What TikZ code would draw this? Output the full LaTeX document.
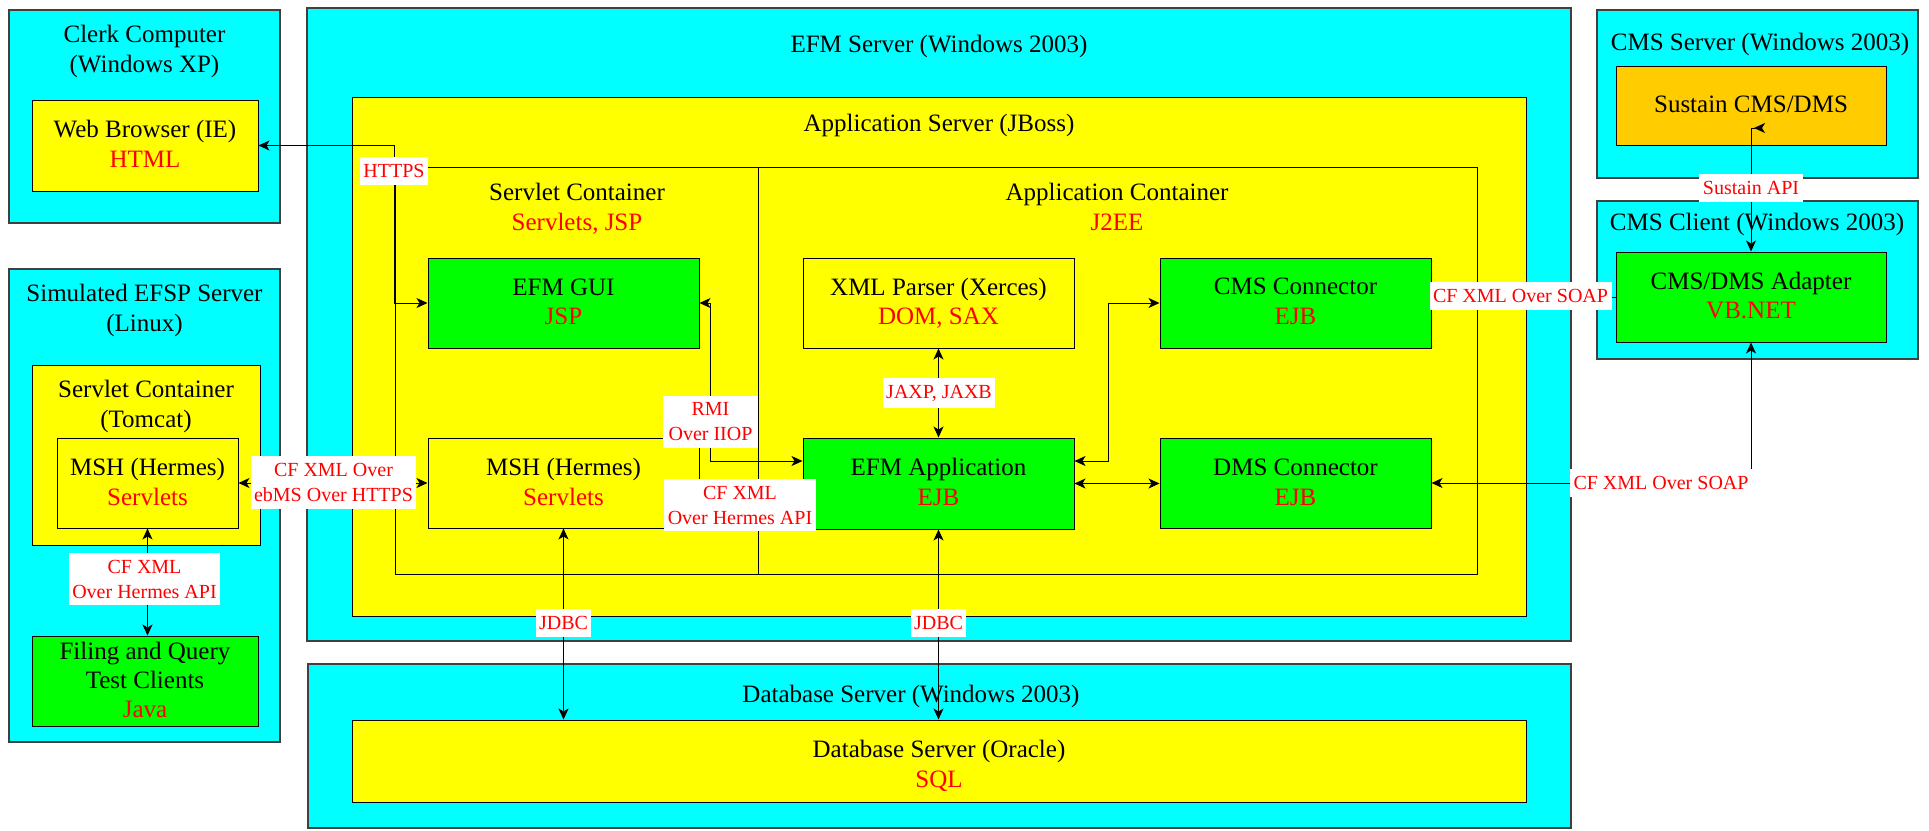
\documentclass[tikz,border=0pt]{standalone}
\usepackage{fontspec}
\setmainfont{Liberation Serif}
\usetikzlibrary{arrows.meta}
\definecolor{cy}{HTML}{00FFFF}
\definecolor{yl}{HTML}{FFFF00}
\definecolor{gr}{HTML}{00FF00}
\definecolor{org}{HTML}{FFCC00}
\definecolor{rd}{HTML}{FF0000}
\newcommand\bigf{\fontsize{25}{30}\selectfont}
\newcommand\smf{\fontsize{20}{25}\selectfont}
\newcommand\mkbox[6]{\node[#1, inner sep=0pt, minimum width={(#5-#3)*1pt}, minimum height={(#6-#4)*1pt}] (#2) at ({(#3+#5)/2},{(#4+#6)/2}) {};}
\newcommand\putline[5][black]{\node[font=\bigf, text=#1, anchor=base, inner sep=0pt] (#2) at (#3,#4) {#5};}
\begin{document}
\begin{tikzpicture}[x=1pt,y=-1pt,
  cyanbox/.style={draw=black!75, line width=1.3pt, fill=cy},
  ylbox/.style={draw=black, line width=1pt, fill=yl},
  grbox/.style={draw=black, line width=1pt, fill=gr},
  orbox/.style={draw=black, line width=1pt, fill=org},
  openbox/.style={draw=black, line width=1pt},
  lab/.style={fill=white, text=rd, font=\smf, align=center, inner xsep=3.5pt, inner ysep=7pt},
  tipA/.tip={Stealth[length=11pt,width=10pt,inset=3pt]},
  biarr/.style={line width=1pt, tipA-tipA},
  plainln/.style={line width=1pt}]
\useasboundingbox (0,0) rectangle (1929,830);
\fill[white] (0,0) rectangle (1929,830);
% boxes
\mkbox{cyanbox}{clerk}{9}{10}{280}{223}
\mkbox{ylbox}{web}{32}{100}{258}{191}
\mkbox{cyanbox}{efsp}{9}{269}{280}{742}
\mkbox{ylbox}{tomcat}{32}{365}{260}{545}
\mkbox{ylbox}{mshl}{57}{438}{238}{528}
\mkbox{grbox}{filing}{32}{636}{258}{726}
\mkbox{cyanbox}{efm}{307}{8}{1571}{641}
\mkbox{ylbox}{jboss}{352}{97}{1526}{616}
\mkbox{openbox}{servlet}{395}{167}{758}{574}
\mkbox{openbox}{appc}{758}{167}{1477}{574}
\mkbox{grbox}{gui}{428}{258}{699}{348}
\mkbox{ylbox}{msh}{428}{438}{699}{528}
\mkbox{ylbox}{xml}{803}{258}{1074}{348}
\mkbox{grbox}{app}{803}{438}{1074}{529}
\mkbox{grbox}{cms}{1160}{258}{1431}{348}
\mkbox{grbox}{dms}{1160}{438}{1431}{528}
\mkbox{cyanbox}{db}{308}{664}{1571}{828}
\mkbox{ylbox}{ora}{352}{720}{1526}{802}
\mkbox{cyanbox}{cmss}{1597}{10}{1918}{178}
\mkbox{orbox}{sus}{1616}{66}{1886}{145}
\mkbox{cyanbox}{cmsc}{1597}{201}{1918}{359}
\mkbox{grbox}{adp}{1616}{252}{1886}{342}
% texts
\putline{t1}{144.5}{42}{Clerk Computer}
\putline{t2}{144.5}{72}{(Windows XP)}
\putline{t3}{145}{137}{Web Browser (IE)}
\putline[rd]{t4}{145}{167}{HTML}
\putline{t5}{144.5}{301}{Simulated EFSP Server}
\putline{t6}{144.5}{331}{(Linux)}
\putline{t7}{146}{397}{Servlet Container}
\putline{t8}{146}{427}{(Tomcat)}
\putline{t9}{147.5}{475}{MSH (Hermes)}
\putline[rd]{t10}{147.5}{505}{Servlets}
\putline{t11}{145}{659}{Filing and Query}
\putline{t12}{145}{688}{Test Clients}
\putline[rd]{t13}{145}{717}{Java}
\putline{t14}{939}{52}{EFM Server (Windows 2003)}
\putline{t15}{939}{131}{Application Server (JBoss)}
\putline{t16}{577}{200}{Servlet Container}
\putline[rd]{t17}{577}{230}{Servlets, JSP}
\putline{t18}{1117}{200}{Application Container}
\putline[rd]{t19}{1117}{230}{J2EE}
\putline{t20}{563.5}{295}{EFM GUI}
\putline[rd]{t21}{563.5}{324}{JSP}
\putline{t22}{563.5}{475}{MSH (Hermes)}
\putline[rd]{t23}{563.5}{505}{Servlets}
\putline{t24}{938.5}{295}{XML Parser (Xerces)}
\putline[rd]{t25}{938.5}{324}{DOM, SAX}
\putline{t26}{938.5}{475}{EFM Application}
\putline[rd]{t27}{938.5}{505}{EJB}
\putline{t28}{1295.5}{294}{CMS Connector}
\putline[rd]{t29}{1295.5}{324}{EJB}
\putline{t30}{1295.5}{475}{DMS Connector}
\putline[rd]{t31}{1295.5}{505}{EJB}
\putline{t32}{911}{702}{Database Server (Windows 2003)}
\putline{t33}{939}{757}{Database Server (Oracle)}
\putline[rd]{t34}{939}{787}{SQL}
\putline{t35}{1760}{50}{CMS Server (Windows 2003)}
\putline{t36}{1751}{112}{Sustain CMS/DMS}
\putline{t37}{1757}{230}{CMS Client (Windows 2003)}
\putline{t38}{1751}{289}{CMS/DMS Adapter}
\putline[rd]{t39}{1751}{318}{VB.NET}
% connectors
\draw[biarr] (web.east) -- (web.east -| servlet.west) |- (gui.west);
\draw[biarr] (gui.east) -- ++(11,0) |- ([yshift=22.5pt]app.west);
\draw[biarr] ([yshift=-22pt]msh.east) -- ([yshift=-22pt]msh.east -| app.west);
\draw[biarr] (xml.south) -- (app.north);
\draw[biarr] ([yshift=22.5pt]app.east) -- ++(34,0) |- (cms.west);
\draw[biarr] (app.east) -- (app.east -| dms.west);
\draw[plainln] (cms.east |- adp.west) -- (adp.west);
\draw[biarr] (adp.south) |- (dms.east);
\coordinate (sustop) at (1751,128);
\draw[line width=1pt, tipA-{Stealth[length=11pt,width=10pt,inset=3pt,reversed]}] (adp.north) -- (sustop) -- ++(14,0);
\draw[biarr] (msh.south) -- (msh.south |- ora.north);
\draw[biarr] (app.south) -- (app.south |- ora.north);
\draw[biarr] (mshl.east) -- (mshl.east -| msh.west);
\draw[biarr] (mshl.south) -- (mshl.south |- filing.north);
% labels
\node[lab] (l1) at (394,171) {HTTPS};
\node[lab, minimum width=95pt] (l2) at (710.5,422) {RMI\\Over IIOP};
\node[lab] (l3) at (740,505) {CF XML\\Over Hermes API};
\node[lab] (l4) at (939,393) {JAXP, JAXB};
\node[lab] (l5) at (1520.5,296) {CF XML Over SOAP};
\node[lab] (l6) at (1661,483) {CF XML Over SOAP};
\node[lab] (l7) at (1751,188) {Sustain API};
\node[lab] (l8) at (563.5,623) {JDBC};
\node[lab] (l9) at (938.5,623) {JDBC};
\node[lab] (l10) at (333.5,482.5) {CF XML Over\\ebMS Over HTTPS};
\node[lab] (l11) at (144.5,579) {CF XML\\Over Hermes API};
\end{tikzpicture}
\end{document}
